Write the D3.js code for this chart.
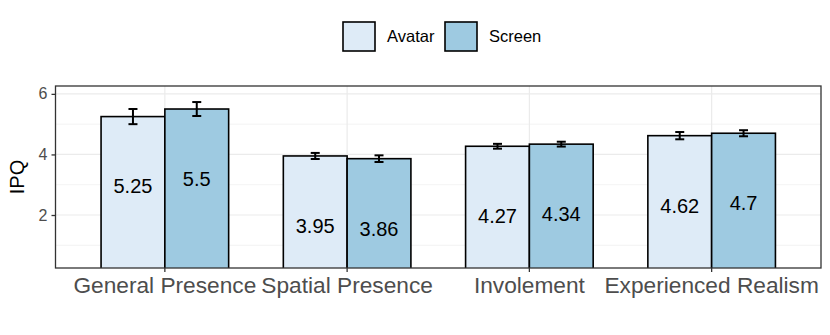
<!DOCTYPE html>
<html>
<head>
<meta charset="utf-8">
<script src="https://cdn.jsdelivr.net/npm/d3@7"></script>
<style>
  html, body { margin: 0; padding: 0; background: #fff; }
  svg { display: block; font-family: "Liberation Sans", Arial, sans-serif; }
</style>
</head>
<body>
<svg id="chart" width="830" height="335"></svg>
<script>
// IPQ scores, Avatar vs Screen
const categories = ["General Presence", "Spatial Presence", "Involement", "Experienced Realism"];
const groups = ["Avatar", "Screen"];
const avatarMean = [5.25, 3.95, 4.27, 4.62];
const screenMean = [5.5, 3.86, 4.34, 4.7];
const avatarErr = [0.25, 0.1, 0.08, 0.12];
const screenErr = [0.23, 0.11, 0.08, 0.1];
const yTicks = [2, 4, 6];
const yMinor = [1, 3, 5];

const colors = { Avatar: "#deebf7", Screen: "#9ecae1" };

const panel = { left: 55.5, top: 86, right: 821, bottom: 268 };
const FONT = "'Liberation Sans', Arial, sans-serif";

const svg = d3.select("#chart");

// ggplot-style discrete expansion: 0.6 units each side => 0.1 step outer padding
const x = d3.scaleBand()
  .domain(categories)
  .range([panel.left, panel.right])
  .paddingInner(0)
  .paddingOuter(0.1);
const barW = x.bandwidth() * 0.7;
const xg = d3.scaleBand().domain(groups).range([-barW / 2, barW / 2]);

const y = d3.scaleLinear().domain([0.25, 6.26]).range([panel.bottom, panel.top]);

const rows = [];
categories.forEach((c, i) => {
  rows.push({ cat: c, grp: "Avatar", v: avatarMean[i], e: avatarErr[i] });
  rows.push({ cat: c, grp: "Screen", v: screenMean[i], e: screenErr[i] });
});

// grid
const grid = svg.append("g");
grid.selectAll("line.minor").data(yMinor).join("line")
  .attr("x1", panel.left).attr("x2", panel.right)
  .attr("y1", d => y(d)).attr("y2", d => y(d))
  .attr("stroke", "#ebebeb").attr("stroke-width", 0.6);
grid.selectAll("line.major").data(yTicks).join("line")
  .attr("x1", panel.left).attr("x2", panel.right)
  .attr("y1", d => y(d)).attr("y2", d => y(d))
  .attr("stroke", "#ebebeb").attr("stroke-width", 1.2);
grid.selectAll("line.vmajor").data(categories).join("line")
  .attr("x1", d => x(d) + x.bandwidth() / 2).attr("x2", d => x(d) + x.bandwidth() / 2)
  .attr("y1", panel.top).attr("y2", panel.bottom)
  .attr("stroke", "#ebebeb").attr("stroke-width", 1.2);

// bars (clipped to the panel like ggplot)
svg.append("clipPath").attr("id", "panel-clip").append("rect")
  .attr("x", panel.left).attr("y", panel.top)
  .attr("width", panel.right - panel.left).attr("height", panel.bottom - panel.top);
const cx = d => x(d.cat) + x.bandwidth() / 2 + xg(d.grp) + xg.bandwidth() / 2;
svg.append("g").attr("clip-path", "url(#panel-clip)")
  .selectAll("rect").data(rows).join("rect")
  .attr("x", d => x(d.cat) + x.bandwidth() / 2 + xg(d.grp))
  .attr("width", xg.bandwidth())
  .attr("y", d => y(d.v))
  .attr("height", d => panel.bottom - y(d.v) + 4)
  .attr("fill", d => colors[d.grp])
  .attr("stroke", "#000").attr("stroke-width", 1.6);

// error bars
const eb = svg.append("g").attr("stroke", "#000").attr("stroke-width", 2);
const cap = 4.5;
eb.selectAll("line.v").data(rows).join("line")
  .attr("x1", cx).attr("x2", cx)
  .attr("y1", d => y(d.v - d.e)).attr("y2", d => y(d.v + d.e));
eb.selectAll("line.t").data(rows).join("line")
  .attr("x1", d => cx(d) - cap).attr("x2", d => cx(d) + cap)
  .attr("y1", d => y(d.v + d.e)).attr("y2", d => y(d.v + d.e));
eb.selectAll("line.b").data(rows).join("line")
  .attr("x1", d => cx(d) - cap).attr("x2", d => cx(d) + cap)
  .attr("y1", d => y(d.v - d.e)).attr("y2", d => y(d.v - d.e));

// value labels
svg.append("g").selectAll("text").data(rows).join("text")
  .attr("x", cx)
  .attr("y", d => y(d.v - 2.3))
  .attr("dy", "0.36em")
  .attr("text-anchor", "middle")
  .attr("font-size", 20)
  .attr("fill", "#000")
  .text(d => d.v);

// panel border
svg.append("rect")
  .attr("x", panel.left).attr("y", panel.top)
  .attr("width", panel.right - panel.left).attr("height", panel.bottom - panel.top)
  .attr("fill", "none").attr("stroke", "#333").attr("stroke-width", 1.3);

// y axis
const yAxis = svg.append("g")
  .attr("transform", `translate(${panel.left},0)`)
  .call(d3.axisLeft(y).tickValues(yTicks).tickFormat(d3.format("d")).tickSize(4).tickPadding(4));
yAxis.attr("font-family", FONT).attr("font-size", 16);
yAxis.select(".domain").remove();
yAxis.selectAll("line").attr("stroke", "#333").attr("stroke-width", 1.3);
yAxis.selectAll("text").attr("fill", "#4d4d4d");

svg.append("text")
  .attr("transform", `translate(24,${(panel.top + panel.bottom) / 2}) rotate(-90)`)
  .attr("text-anchor", "middle")
  .attr("font-size", 20)
  .text("IPQ");

// x axis
const xAxis = svg.append("g")
  .attr("transform", `translate(0,${panel.bottom})`)
  .call(d3.axisBottom(x).tickSize(4).tickPadding(5));
xAxis.attr("font-family", FONT).attr("font-size", 22.7);
xAxis.select(".domain").remove();
xAxis.selectAll("line").attr("stroke", "#333").attr("stroke-width", 1.3);
xAxis.selectAll("text").attr("fill", "#4d4d4d");

// legend
const legend = svg.append("g");
const legX = [343, 445];
groups.forEach((g, i) => {
  legend.append("rect")
    .attr("x", legX[i]).attr("y", 22).attr("width", 32).attr("height", 29)
    .attr("fill", colors[g]).attr("stroke", "#000").attr("stroke-width", 1.6);
  legend.append("text")
    .attr("x", legX[i] + 44).attr("y", 36.5).attr("dy", "0.36em")
    .attr("font-size", 16.5)
    .text(g);
});
</script>
</body>
</html>
